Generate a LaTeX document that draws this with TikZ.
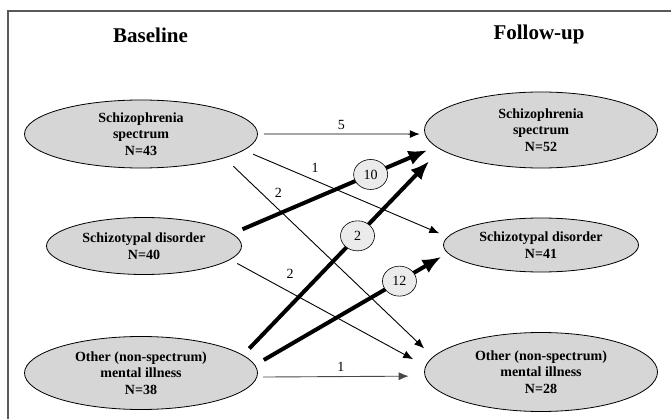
\documentclass[tikz,border=0pt]{standalone}
\usepackage{fontspec}
\setmainfont{Liberation Serif}
\usetikzlibrary{shapes.geometric, arrows.meta}

\begin{document}
\begin{tikzpicture}[
						x=1pt, y=-1pt,
						diag/.style = {draw, ellipse, fill=black!16, line width=0.8pt, inner sep=0pt, align=center, font=\fontsize{14}{16.5}\selectfont\bfseries},
						bigdiag/.style = {diag, minimum width=233pt},
						smalldiag/.style = {diag, minimum width=195pt},
						heading/.style = {font=\fontsize{21}{24}\selectfont\bfseries, anchor=base},
						tally/.style = {draw, ellipse, fill=black!8, line width=0.6pt, minimum width=34pt, minimum height=30pt, inner sep=0pt, font=\fontsize{14}{16}\selectfont},
						lbl/.style = {font=\fontsize{14}{16}\selectfont, inner sep=1pt},
						flow/.style = {-{Latex[length=10pt, width=8pt]}, line width=0.9pt},
						bigflow/.style = {-{Latex[length=19pt, width=15pt]}, line width=4pt}
					]
\useasboundingbox (0,0) rectangle (671,419);
\draw[black!65, line width=1.6pt] (671,11) -- (8,11) -- (8,419);

\node[heading] (base) at (150.5,43) {Baseline};
\node[heading] (follow) at (539,40) {Follow-up};

\node[bigdiag, minimum height=68pt] (s1) at (141,134) {Schizophrenia\\spectrum\\N=43};
\node[smalldiag, minimum height=57pt] (s2) at (144,246) {Schizotypal disorder\\N=40};
\node[bigdiag, minimum height=73pt] (s3) at (141,373) {Other (non-spectrum)\\mental illness\\N=38};
\node[bigdiag, minimum height=76pt] (f1) at (541,130) {Schizophrenia\\spectrum\\N=52};
\node[smalldiag, minimum height=54pt] (f2) at (541,245) {Schizotypal disorder\\N=41};
\node[bigdiag, minimum height=79pt] (f3) at (541,372) {Other (non-spectrum)\\mental illness\\N=28};

\draw[flow, shorten <=6pt, shorten >=5pt] (s1.0) -- node[lbl, above=3pt] (l5) {5} (f1.182);
\draw[flow, shorten <=10pt, shorten >=9pt] (s1.-9) -- node[lbl, above right=3pt, pos=.31] (l1) {1} (f2.175);
\draw[flow, shorten <=12pt, shorten >=12pt] (s1.-16) -- node[lbl, above right=3pt, pos=.22] (l2a) {2} (f3.172);
\draw[flow, shorten <=8pt, shorten >=14pt] (s2.-9) -- node[lbl, above right=6pt, pos=.25] (l2b) {2} (f3.177);
\draw[flow, black!72, shorten <=6pt, shorten >=16pt] (s3.-2) -- node[lbl, above=4pt, text=black] (l1b) {1} (f3.182);
\draw[bigflow, shorten <=11pt, shorten >=9pt] (s2.8) -- node[tally, pos=.68] (c10) {10} (f1.189);
\draw[bigflow, shorten <=9pt, shorten >=16pt] (s3.10) -- node[tally, pos=.58] (c2) {2} (f1.191);
\draw[bigflow, shorten <=10pt, shorten >=7pt] (s3.4) -- node[tally, pos=.75] (c12) {12} (f2.185);
\end{tikzpicture}
\end{document}
